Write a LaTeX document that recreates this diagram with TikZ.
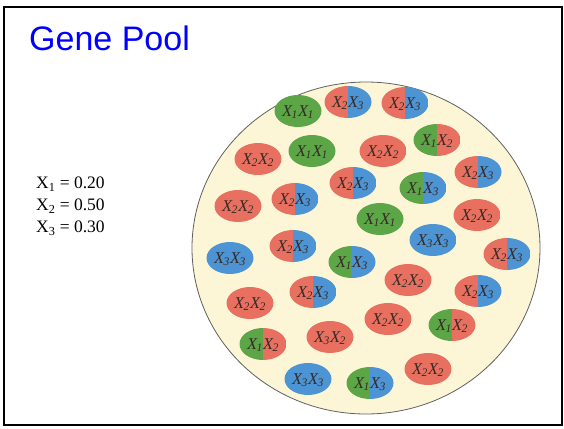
\documentclass[tikz,border=0pt]{standalone}
\usepackage{fontspec}
\setmainfont{Liberation Serif}
\newfontfamily\titlefont{Liberation Sans}
\definecolor{rd}{RGB}{231,112,96}
\definecolor{bl}{RGB}{76,148,212}
\definecolor{gn}{RGB}{92,166,72}
\definecolor{cream}{RGB}{253,246,214}
\definecolor{ink}{RGB}{55,42,38}
\definecolor{titleblue}{RGB}{0,0,255}
\tikzset{
  gtext/.style={font=\fontsize{16.5}{16.5}\selectfont\itshape, text=ink, inner sep=0pt},
  freqtext/.style={font=\fontsize{17.5}{22}\selectfont, align=left, anchor=north west, inner sep=0pt},
  pool/.style={fill=cream, draw=gray!75!black, line width=0.8pt},
  frame/.style={draw=black, line width=2pt},
}
\newcommand\gpair[7]{%
  \begin{scope}
    \clip (#2,#3) ellipse [x radius=23.5pt, y radius=16pt];
    \fill[#4] (#2-24,#3-17) rectangle (#2,#3+17);
    \fill[#5] (#2,#3-17) rectangle (#2+24,#3+17);
  \end{scope}
  \node[gtext] (#1) at (#2,#3+1) {X\kern-0.5pt\textsubscript{#6}X\kern-0.5pt\textsubscript{#7}};
}
\begin{document}
\begin{tikzpicture}[x=1pt,y=-1pt]
\useasboundingbox (0,0) rectangle (564,428);
\fill[white] (0,0) rectangle (564,428);
\draw[frame] (4,7) rectangle (562,425);
\node[font=\fontsize{34}{34}\selectfont\titlefont, text=titleblue, anchor=base west, inner sep=0pt] (title) at (29,50) {Gene Pool};
\node[freqtext] (freq) at (36,177) {X\textsubscript{1} = 0.20\\X\textsubscript{2} = 0.50\\X\textsubscript{3} = 0.30};
\path[pool] (366,248) ellipse [x radius=174pt, y radius=166pt];
\gpair{p1}{298}{111}{gn}{gn}{1}{1}
\gpair{p2}{348}{102}{rd}{bl}{2}{3}
\gpair{p3}{405}{103}{rd}{bl}{2}{3}
\gpair{p4}{258}{159}{rd}{rd}{2}{2}
\gpair{p5}{312}{151}{gn}{gn}{1}{1}
\gpair{p6}{383}{151}{rd}{rd}{2}{2}
\gpair{p7}{437}{140}{gn}{rd}{1}{2}
\gpair{p8}{353}{183}{rd}{bl}{2}{3}
\gpair{p9}{423}{188}{gn}{bl}{1}{3}
\gpair{p10}{478}{172}{rd}{bl}{2}{3}
\gpair{p11}{238}{206}{rd}{rd}{2}{2}
\gpair{p12}{295}{199}{rd}{bl}{2}{3}
\gpair{p13}{380}{219}{gn}{gn}{1}{1}
\gpair{p14}{477}{215}{rd}{rd}{2}{2}
\gpair{p15}{230}{258}{bl}{bl}{3}{3}
\gpair{p16}{293}{246}{rd}{bl}{2}{3}
\gpair{p17}{433}{240}{bl}{bl}{3}{3}
\gpair{p18}{352}{262}{gn}{bl}{1}{3}
\gpair{p19}{507}{254}{rd}{bl}{2}{3}
\gpair{p20}{250}{303}{rd}{rd}{2}{2}
\gpair{p21}{313}{292}{rd}{bl}{2}{3}
\gpair{p22}{408}{280}{rd}{rd}{2}{2}
\gpair{p23}{478}{291}{rd}{bl}{2}{3}
\gpair{p24}{388}{319}{rd}{rd}{2}{2}
\gpair{p25}{263}{344}{gn}{rd}{1}{2}
\gpair{p26}{330}{337}{rd}{rd}{3}{2}
\gpair{p27}{452}{325}{gn}{rd}{1}{2}
\gpair{p28}{308}{379}{bl}{bl}{3}{3}
\gpair{p29}{370}{383}{gn}{bl}{1}{3}
\gpair{p30}{428}{369}{rd}{rd}{2}{2}
\end{tikzpicture}
\end{document}
